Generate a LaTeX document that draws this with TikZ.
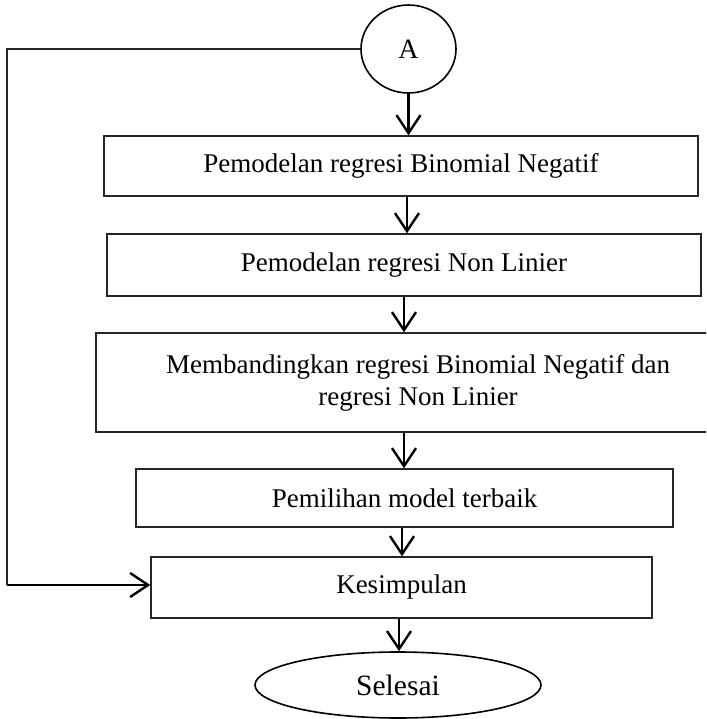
\documentclass[tikz,border=0pt]{standalone}
\usepackage{fontspec}
\setmainfont{Liberation Serif}
\usetikzlibrary{arrows.meta,shapes.geometric,calc}
\begin{document}
\begin{tikzpicture}[x=1pt,y=-1pt,
  box/.style={draw=black!85,line width=1.4pt,rectangle,inner sep=0pt,align=center,
    font=\fontsize{27}{32}\selectfont},
  arr/.style={draw=black,line width=2.4pt,-{Straight Barb[length=18pt,width=24pt]}},
  loopline/.style={draw=black!85,line width=1.8pt}]
\useasboundingbox (0,0) rectangle (706,719);
\clip (0,0) rectangle (706,719);
\node[draw,line width=1.6pt,ellipse,minimum width=95pt,minimum height=88pt,inner sep=0pt,
  font=\fontsize{28}{32}\selectfont] (A) at (408.5,49) {A};
\node[box,minimum width=594pt,minimum height=60pt] (b1) at (401,166) {Pemodelan regresi Binomial Negatif};
\node[box,minimum width=594pt,minimum height=62pt] (b2) at (404,265) {Pemodelan regresi Non Linier};
\node[box,minimum width=644pt,minimum height=99pt] (b3) at (418,382.5) {Membandingkan regresi Binomial Negatif dan\\regresi Non Linier};
\node[box,minimum width=537pt,minimum height=58pt] (b4) at (404.5,498) {Pemilihan model terbaik};
\node[box,minimum width=501pt,minimum height=61pt] (b5) at (401.5,587.5) {Kesimpulan};
\node[draw,line width=1.6pt,ellipse,minimum width=286pt,minimum height=66pt,inner sep=0pt,
  font=\fontsize{29.5}{34}\selectfont] (E) at (398,685) {Selesai};
\coordinate (c) at (7,585);
\draw[arr] (A.south) -- (A.south |- b1.north);
\draw[arr] ([xshift=6pt]b1.south) -- ([xshift=6pt]b1.south |- b2.north);
\draw[arr] (b2.south) -- (b2.south |- b3.north);
\draw[arr] ([xshift=-14pt]b3.south) -- ([xshift=-14pt]b3.south |- b4.north);
\draw[arr] ([xshift=-2.5pt]b4.south) -- ([xshift=-2.5pt]b4.south |- b5.north);
\draw[arr] ([xshift=-2.5pt]b5.south) -- ([xshift=-2.5pt]b5.south |- E.north);
\draw[loopline] (A.west) -| (c);
\draw[arr] (c) -- (c -| b5.west);
\end{tikzpicture}
\end{document}
